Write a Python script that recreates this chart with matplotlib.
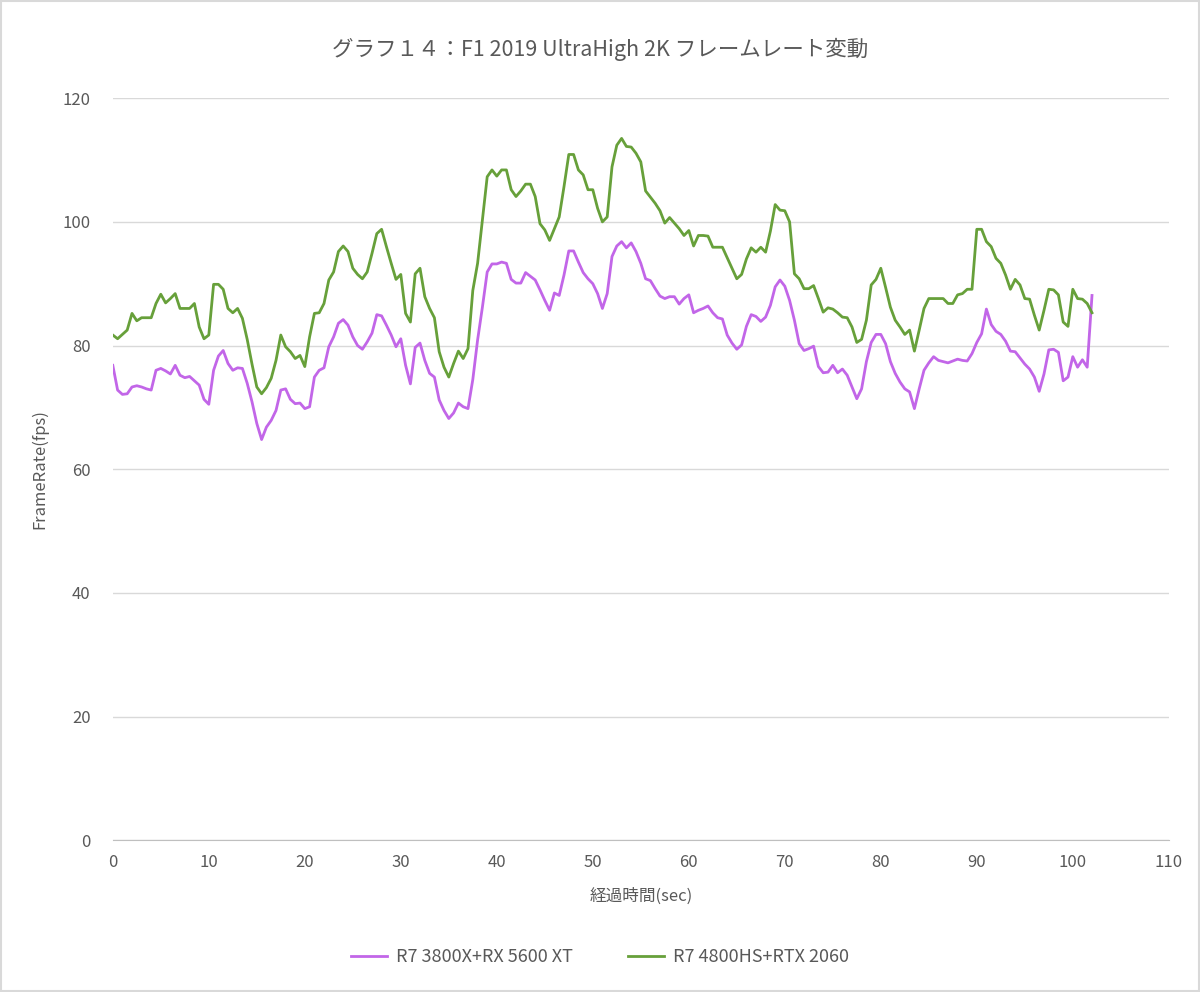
import numpy as np
import matplotlib
matplotlib.use("Agg")
import matplotlib.pyplot as plt
from matplotlib.patches import Rectangle

plt.rcParams['font.family'] = ['Noto Sans CJK JP', 'DejaVu Sans']

# temps (s), un point toutes les 0.5 s
temps = np.arange(0, 102.5, 0.5)

# R7 4800HS+RTX 2060
fps_4800hs = [
    81.7, 81.1, 81.8, 82.5, 85.2, 84.0, 84.5, 84.5, 84.5, 86.8,
    88.3, 86.9, 87.6, 88.4, 86.0, 86.0, 86.0, 86.8, 83.0, 81.1,
    81.7, 89.9, 89.9, 89.1, 86.0, 85.3, 86.0, 84.4, 81.0, 77.0,
    73.3, 72.2, 73.2, 74.7, 77.6, 81.7, 79.8, 79.0, 77.9, 78.4,
    76.6, 81.4, 85.2, 85.3, 86.8, 90.6, 91.9, 95.2, 96.1, 95.2,
    92.5, 91.5, 90.8, 91.9, 94.9, 98.1, 98.8, 96.0, 93.3, 90.7,
    91.5, 85.2, 83.8, 91.6, 92.5, 87.9, 86.0, 84.5, 79.0, 76.5,
    74.9, 77.1, 79.1, 77.9, 79.5, 88.9, 93.3, 100.3, 107.3, 108.4,
    107.4, 108.4, 108.4, 105.2, 104.1, 105.0, 106.1, 106.1, 104.1, 99.7,
    98.7, 97.0, 98.9, 100.8, 105.7, 110.9, 110.9, 108.4, 107.6, 105.2,
    105.2, 102.2, 100.0, 100.8, 108.9, 112.4, 113.5, 112.2, 112.1, 111.1,
    109.7, 105.0, 104.0, 103.0, 101.8, 99.8, 100.7, 99.8, 98.9, 97.8,
    98.6, 96.1, 97.8, 97.8, 97.7, 95.9, 95.9, 95.9, 94.2, 92.5,
    90.8, 91.5, 94.0, 95.8, 95.1, 95.9, 95.1, 98.5, 102.8, 101.9,
    101.8, 100.0, 91.6, 90.8, 89.2, 89.2, 89.7, 87.6, 85.4, 86.1,
    85.9, 85.3, 84.6, 84.5, 83.0, 80.5, 81.0, 84.1, 89.8, 90.7,
    92.5, 89.4, 86.2, 84.1, 83.0, 81.8, 82.5, 79.1, 82.5, 86.0,
    87.6, 87.6, 87.6, 87.6, 86.8, 86.8, 88.2, 88.4, 89.1, 89.1,
    98.8, 98.8, 96.8, 96.0, 94.1, 93.3, 91.4, 89.1, 90.7, 89.8,
    87.6, 87.5, 84.9, 82.5, 85.7, 89.1, 89.0, 88.2, 83.8, 83.1,
    89.1, 87.6, 87.5, 86.8, 85.3,
]

# R7 3800X+RX 5600 XT
fps_3800x = [
    76.8, 72.8, 72.1, 72.2, 73.3, 73.5, 73.3, 73.0, 72.8, 76.0,
    76.3, 75.9, 75.4, 76.8, 75.2, 74.8, 75.0, 74.3, 73.6, 71.3,
    70.5, 76.0, 78.3, 79.2, 77.1, 76.0, 76.4, 76.3, 73.9, 70.9,
    67.4, 64.8, 66.8, 67.9, 69.5, 72.8, 73.0, 71.3, 70.6, 70.7,
    69.8, 70.1, 74.9, 76.0, 76.4, 79.8, 81.4, 83.6, 84.2, 83.3,
    81.4, 80.0, 79.4, 80.6, 82.0, 85.0, 84.8, 83.3, 81.7, 79.8,
    81.1, 76.8, 73.8, 79.7, 80.4, 77.6, 75.5, 74.9, 71.2, 69.5,
    68.2, 69.1, 70.7, 70.1, 69.8, 74.5, 80.9, 86.2, 91.9, 93.2,
    93.2, 93.5, 93.3, 90.7, 90.1, 90.1, 91.8, 91.2, 90.6, 89.0,
    87.3, 85.7, 88.5, 88.1, 91.4, 95.3, 95.3, 93.5, 91.8, 90.8,
    90.0, 88.4, 86.0, 88.4, 94.4, 96.1, 96.8, 95.8, 96.6, 95.2,
    93.3, 90.8, 90.5, 89.2, 88.0, 87.6, 87.9, 87.9, 86.7, 87.6,
    88.2, 85.3, 85.7, 86.0, 86.4, 85.3, 84.5, 84.3, 81.7, 80.4,
    79.4, 80.1, 83.1, 85.0, 84.7, 83.9, 84.6, 86.5, 89.5, 90.6,
    89.6, 87.3, 84.1, 80.3, 79.2, 79.5, 79.9, 76.6, 75.6, 75.7,
    76.8, 75.6, 76.2, 75.2, 73.3, 71.4, 73.0, 77.4, 80.5, 81.8,
    81.8, 80.3, 77.4, 75.5, 74.1, 73.0, 72.5, 69.8, 73.0, 76.0,
    77.2, 78.2, 77.6, 77.4, 77.2, 77.5, 77.8, 77.6, 77.5, 78.7,
    80.5, 81.9, 85.9, 83.4, 82.3, 81.8, 80.7, 79.1, 79.0, 78.0,
    77.0, 76.2, 74.9, 72.6, 75.4, 79.3, 79.4, 78.9, 74.3, 74.9,
    78.2, 76.5, 77.7, 76.5, 88.1,
]

texte = '#595959'

fig = plt.figure(figsize=(12, 9.92), dpi=100)
ax = fig.add_axes([0.094, 0.153, 0.880, 0.748])

ax.plot(temps, fps_3800x, color='#c266e8', lw=2.0, label='R7 3800X+RX 5600 XT')
ax.plot(temps, fps_4800hs, color='#67a03a', lw=2.0, label='R7 4800HS+RTX 2060')

ax.set_xlim(0, 110)
ax.set_ylim(0, 120)
ax.set_xticks(range(0, 111, 10))
ax.set_yticks(range(0, 121, 20))
ax.grid(axis='y', color='#d9d9d9', lw=1)
ax.set_axisbelow(True)
for s in ['top', 'right', 'left']:
    ax.spines[s].set_visible(False)
ax.spines['bottom'].set_color('#bfbfbf')
ax.tick_params(axis='both', length=0, labelsize=12, colors=texte, pad=10)
ax.tick_params(axis='y', pad=16)

ax.set_xlabel('経過時間(sec)', fontsize=12, color=texte, labelpad=12)
ax.set_ylabel('FrameRate(fps)', fontsize=12, color=texte, labelpad=10)

fig.suptitle('グラフ１４：F1 2019 UltraHigh 2K フレームレート変動', y=0.962,
             fontsize=15.5, color=texte)

fig.legend(loc='center', bbox_to_anchor=(0.5, 0.035), ncol=2, frameon=False,
           fontsize=13, labelcolor=texte, handlelength=2.0, handletextpad=0.5,
           columnspacing=3.0)

fig.patches.append(Rectangle((0.001, 0.001), 0.998, 0.998, transform=fig.transFigure,
                             fill=False, edgecolor='#d9d9d9', lw=1.5))

fig.savefig('out.png', dpi=100, facecolor='white')
